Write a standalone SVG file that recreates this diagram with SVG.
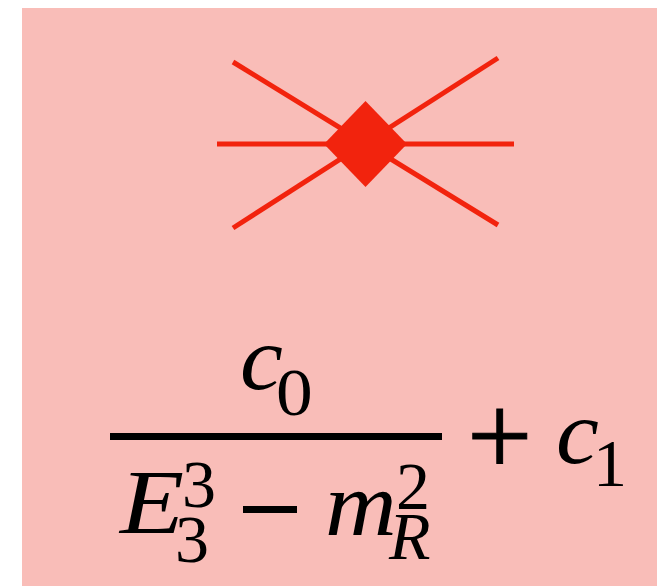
<svg xmlns="http://www.w3.org/2000/svg" width="657" height="586" viewBox="0 0 657 586">
<style>
.t{font-family:"Liberation Serif","Times New Roman",serif;fill:#000}
.i{font-style:italic}
.b{font-size:92px}
.s{font-size:68px}
.l{stroke:#f2230d;stroke-width:5;fill:none}
</style>
<rect x="22" y="8" width="635" height="578" fill="#f9bdb8"/>
<g id="connectors">
<line class="l" x1="233" y1="62" x2="498" y2="225"/>
<line class="l" x1="233" y1="228" x2="498" y2="58"/>
<line class="l" x1="217" y1="144" x2="514" y2="144"/>
</g>
<g id="vertex"><polygon points="365.5,101 407,144 365.5,187 324,144" fill="#f2230d"/></g>
<g id="formula">
<text class="t i b" transform="translate(240,389) scale(1.05,1)">c</text>
<text class="t s" transform="translate(276,415) scale(1.08,1)">0</text>
<rect x="110" y="433" width="332" height="7" fill="#000"/>
<text class="t i b" transform="translate(120,533) scale(1.14,1)">E</text>
<text class="t s" transform="translate(182,507)">3</text>
<text class="t s" transform="translate(175,562)">3</text>
<rect x="243" y="506" width="54" height="7" fill="#000"/>
<text class="t i b" transform="translate(325,535) scale(1.08,1)">m</text>
<text class="t s" transform="translate(396,509)">2</text>
<text class="t i s" transform="translate(389,559)">R</text>
<text class="t" font-size="116" stroke="#000" stroke-width="1" transform="translate(467,475)">+</text>
<text class="t i b" transform="translate(556,463) scale(1.05,1)">c</text>
<text class="t s" transform="translate(593,486)">1</text>
</g>
</svg>
